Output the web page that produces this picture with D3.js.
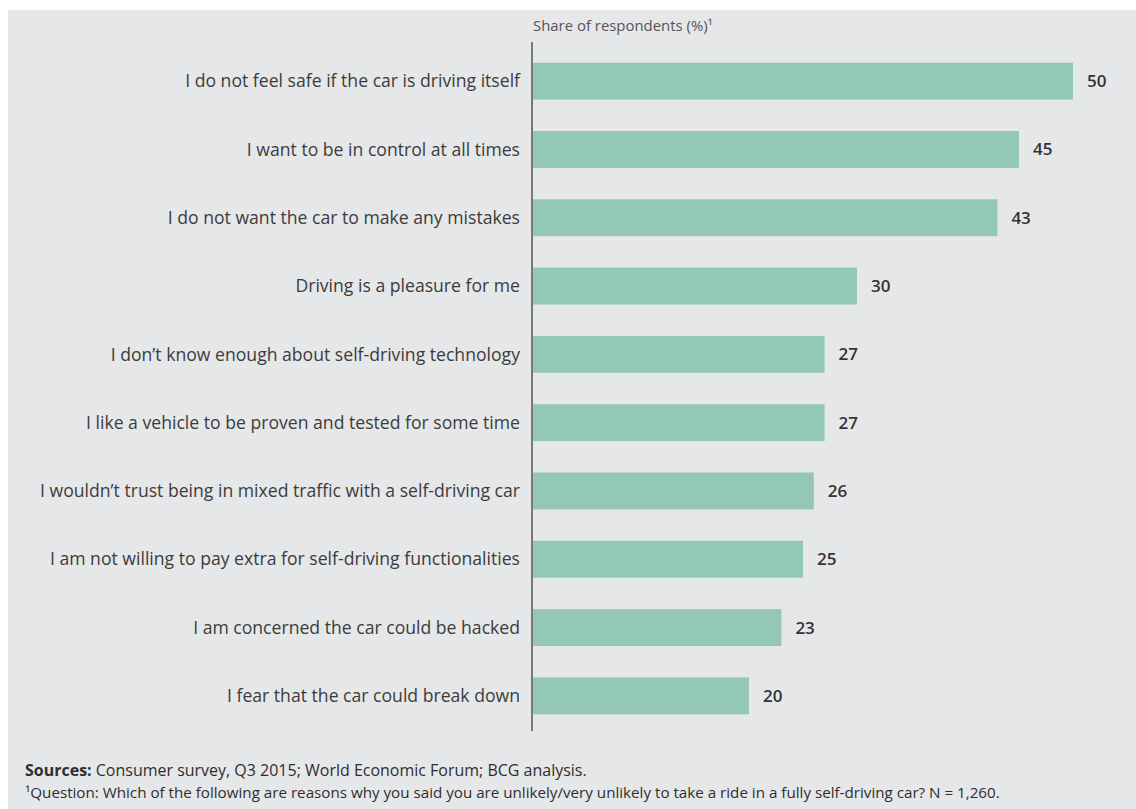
<!DOCTYPE html>
<html>
<head>
<meta charset="utf-8">
<script src="https://cdn.jsdelivr.net/npm/d3@7"></script>
<style>
  html, body { margin: 0; padding: 0; background: #ffffff; }
  svg { display: block; }
</style>
</head>
<body>
<svg id="chart" width="1136" height="809"></svg>
<script>
// Reasons respondents gave for being unlikely to ride in a self-driving car
const categories = [
  "I do not feel safe if the car is driving itself",
  "I want to be in control at all times",
  "I do not want the car to make any mistakes",
  "Driving is a pleasure for me",
  "I don\u2019t know enough about self-driving technology",
  "I like a vehicle to be proven and tested for some time",
  "I wouldn\u2019t trust being in mixed traffic with a self-driving car",
  "I am not willing to pay extra for self-driving functionalities",
  "I am concerned the car could be hacked",
  "I fear that the car could break down"
];
const shares = [50, 45, 43, 30, 27, 27, 26, 25, 23, 20];

const axisTitle = "Share of respondents (%)\u00b9";
const sourceLabel = "Sources:";
const sourceText = " Consumer survey, Q3 2015; World Economic Forum; BCG analysis.";
const footnote = "\u00b9Question: Which of the following are reasons why you said you are unlikely/very unlikely to take a ride in a fully self-driving car? N = 1,260.";

const data = categories.map((c, i) => ({ label: c, value: shares[i] }));

const svg = d3.select("#chart");
const font = "'Open Sans', Lato, sans-serif";

// Fit a text element to a target width by adjusting font size
function fitWidth(sel, target) {
  sel.each(function () {
    const w = this.getComputedTextLength();
    const fs = parseFloat(this.getAttribute("font-size"));
    if (w > 0) this.setAttribute("font-size", (fs * target / w).toFixed(2));
  });
}

// Panel background
svg.append("rect")
  .attr("x", 8).attr("y", 10)
  .attr("width", 1128).attr("height", 799)
  .attr("fill", "#e6e7e9");

const x = d3.scaleLinear().domain([0, 50]).range([533, 1073]);
const y = d3.scaleBand()
  .domain(categories)
  .range([47, 730])
  .paddingInner(0.46)
  .paddingOuter(0.23);

// Bars
svg.append("g").selectAll("rect")
  .data(data)
  .join("rect")
  .attr("x", x(0))
  .attr("y", d => y(d.label))
  .attr("width", d => x(d.value) - x(0))
  .attr("height", y.bandwidth())
  .attr("fill", "#93c7b6");

// Category labels
const labels = svg.append("g").selectAll("text")
  .data(data)
  .join("text")
  .attr("x", 520)
  .attr("y", d => y(d.label) + y.bandwidth() / 2)
  .attr("dy", "0.35em")
  .attr("text-anchor", "end")
  .attr("font-family", font)
  .attr("font-size", 16)
  .attr("fill", "#3c3c3c")
  .text(d => d.label);

// Size category labels uniformly so the longest spans the left margin
const longest = labels.filter((d, i) => i === 6).node();
const scaleF = 480 / longest.getComputedTextLength();
labels.attr("font-size", (16 * scaleF).toFixed(2));

// Value labels
svg.append("g").selectAll("text")
  .data(data)
  .join("text")
  .attr("x", d => x(d.value) + 14)
  .attr("y", d => y(d.label) + y.bandwidth() / 2)
  .attr("dy", "0.35em")
  .attr("font-family", font)
  .attr("font-size", 17)
  .attr("font-weight", 600)
  .attr("fill", "#333333")
  .text(d => d.value);

// Vertical baseline
svg.append("line")
  .attr("x1", x(0) - 1).attr("x2", x(0) - 1)
  .attr("y1", 42).attr("y2", 731)
  .attr("stroke", "#555555")
  .attr("stroke-width", 1.5);

// Axis title
svg.append("text")
  .attr("x", 533).attr("y", 31)
  .attr("font-family", font)
  .attr("font-size", 12.5)
  .attr("fill", "#555555")
  .text(axisTitle)
  .call(fitWidth, 180);

// Footer
svg.append("text")
  .attr("x", 25).attr("y", 798)
  .attr("font-family", font)
  .attr("font-size", 14)
  .attr("fill", "#2e2e2e")
  .text(footnote)
  .call(fitWidth, 975);

const src = svg.append("text")
  .attr("x", 25).attr("y", 776)
  .attr("font-family", font)
  .attr("font-size", 14)
  .attr("fill", "#2e2e2e");
src.append("tspan").attr("font-weight", 700).text(sourceLabel);
src.append("tspan").text(sourceText);
src.call(fitWidth, 562);
</script>
</body>
</html>
